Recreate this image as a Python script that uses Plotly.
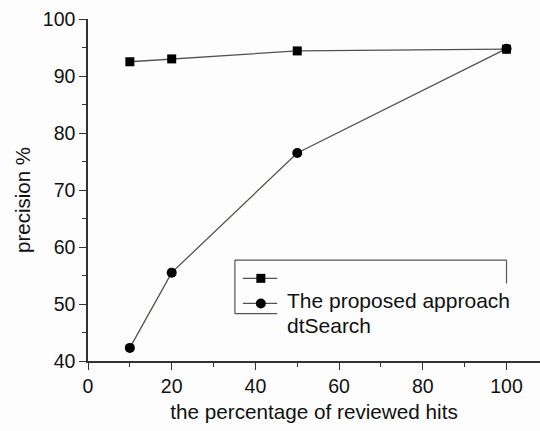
import plotly.graph_objects as go

# ---- data ----
x_hits = [10, 20, 50, 100]
proposed = [92.5, 93.0, 94.4, 94.7]
dtsearch = [42.3, 55.5, 76.5, 94.8]
series_names = ["The proposed approach", "dtSearch"]
x_ticks = [0, 20, 40, 60, 80, 100]
y_ticks = [40, 50, 60, 70, 80, 90, 100]

FONT = "Liberation Sans, Arial, Helvetica, sans-serif"
LINE = "#55514d"
INK = "#111111"

fig = go.Figure()
fig.add_trace(go.Scatter(x=x_hits, y=proposed, mode="lines+markers", name=series_names[0],
                         line=dict(color=LINE, width=1.3),
                         marker=dict(symbol="square", size=9, color="#000")))
fig.add_trace(go.Scatter(x=x_hits, y=dtsearch, mode="lines+markers", name=series_names[1],
                         line=dict(color=LINE, width=1.3),
                         marker=dict(symbol="circle", size=10, color="#000")))

# ---- hand-drawn legend (replicating the offset box of the original) ----
shapes = []
box = dict(type="line", xref="x", yref="y", line=dict(color="#555", width=1.2))
shapes.append({**box, "x0": 35.1, "x1": 100, "y0": 57.7, "y1": 57.7})
shapes.append({**box, "x0": 35.1, "x1": 35.1, "y0": 57.7, "y1": 48.3})
shapes.append({**box, "x0": 100, "x1": 100, "y0": 57.7, "y1": 53.6})
shapes.append({**box, "x0": 35.1, "x1": 45.2, "y0": 48.3, "y1": 48.3})
for yy, sym in [(54.5, "square"), (50.1, "circle")]:
    shapes.append(dict(type="line", xref="x", yref="y", x0=37.0, x1=45.2, y0=yy, y1=yy,
                       line=dict(color=LINE, width=1.3)))
    h = 4.5 if sym == "square" else 5
    shapes.append(dict(type="rect" if sym == "square" else "circle",
                       xref="x", yref="y", xsizemode="pixel", ysizemode="pixel",
                       xanchor=41.3, yanchor=yy, x0=-h, x1=h, y0=-h, y1=h,
                       fillcolor="#000", line=dict(color="#000", width=0)))

annotations = [
    dict(x=47.0, y=50.6, xref="x", yref="y", text=series_names[0], showarrow=False,
         xanchor="left", yanchor="middle", font=dict(family=FONT, size=21, color=INK)),
    dict(x=47.0, y=46.2, xref="x", yref="y", text=series_names[1], showarrow=False,
         xanchor="left", yanchor="middle", font=dict(family=FONT, size=21, color=INK)),
    dict(x=(23 - 88) / 452, y=(361 - 200) / 342, xref="paper", yref="paper", text="precision %",
         showarrow=False, textangle=-90, xanchor="center", yanchor="middle",
         font=dict(family=FONT, size=20.5, color=INK)),
]

axis_common = dict(showgrid=False, zeroline=False, showline=True, linecolor="#333", linewidth=1.5,
                   ticks="outside", tickcolor="#333", tickwidth=1.3, ticklen=7,
                   tickfont=dict(family=FONT, size=19.5, color=INK),
                   minor=dict(ticks="outside", ticklen=4, tickcolor="#333", tickwidth=1.2))

fig.update_layout(
    width=540, height=431,
    margin=dict(l=88, r=0, t=19, b=70),
    paper_bgcolor="#fdfdfd", plot_bgcolor="#fdfdfd",
    showlegend=False,
    shapes=shapes, annotations=annotations,
    xaxis=dict(**axis_common, range=[0, 108], tickvals=x_ticks,
               minor_dtick=10, minor_tick0=0,
               title=dict(text="the percentage of reviewed hits", standoff=8,
                          font=dict(family=FONT, size=20.7, color=INK))),
    yaxis=dict(**axis_common, range=[40, 100], tickvals=y_ticks,
               minor_dtick=5, minor_tick0=0),
)

fig.write_html("out.html")
